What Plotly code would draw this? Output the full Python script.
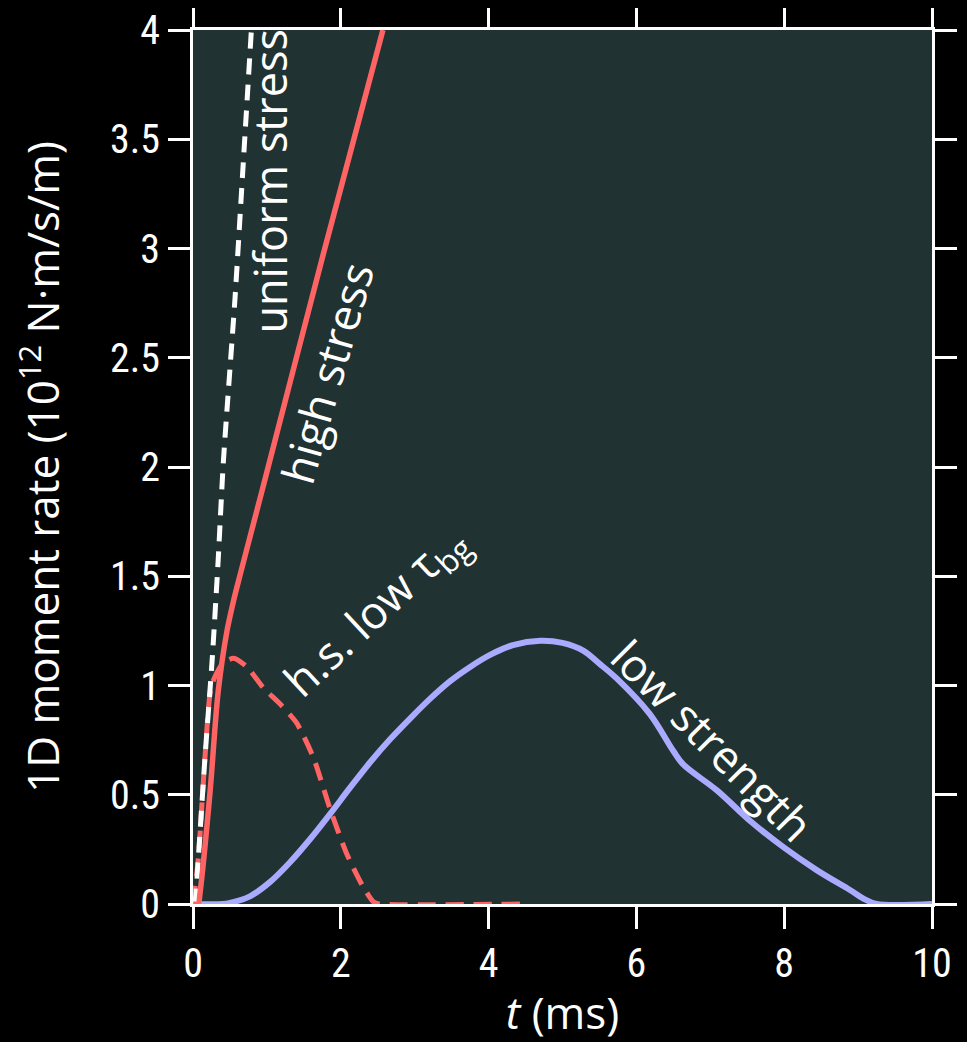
import plotly.graph_objects as go

# ---- data (t in ms, moment rate in 1e12 N·m/s/m) ----
uniform_t = [0, 0.03, 0.07, 0.16, 0.26, 0.34, 0.41, 0.57, 0.68, 0.79]
uniform_m = [0, 0.02, 0.2, 0.66, 1.12, 1.57, 2.02, 2.78, 3.39, 4.0]

high_t = [0, 0.07, 0.095, 0.23, 0.34, 0.46, 0.55, 0.64, 0.91, 1.04, 1.76, 2.57]
high_m = [0, 0, 0.05, 0.51, 0.97, 1.25, 1.39, 1.51, 1.86, 2.03, 2.97, 4.0]

hslow_t = [0, 0.07, 0.16, 0.25, 0.4, 0.55, 0.73, 0.95, 1.18, 1.40, 1.63, 1.85, 2.08, 2.30, 2.44, 2.52, 4.43]
hslow_m = [0, 0.2, 0.66, 1.0, 1.1, 1.125, 1.085, 0.99, 0.915, 0.83, 0.67, 0.44, 0.23, 0.08, 0.01, 0, 0]

low_t = [0, 0.4, 0.5, 0.77, 1.04, 1.31, 1.58, 1.85, 2.12, 2.40, 2.67, 2.94, 3.21, 3.48, 3.75,
         4.02, 4.33, 4.70, 5.0, 5.28, 5.5, 5.74, 6.18, 6.5, 6.63, 7.09, 7.54, 7.99, 8.44,
         8.89, 9.1, 9.25, 10]
low_m = [0, 0, 0.005, 0.035, 0.10, 0.19, 0.295, 0.41, 0.53, 0.65, 0.755, 0.85, 0.94, 1.02, 1.085,
         1.14, 1.185, 1.205, 1.195, 1.16, 1.1, 1.03, 0.87, 0.70, 0.64, 0.52, 0.38, 0.26, 0.155,
         0.064, 0.02, 0, 0]

x_ticks = [0, 2, 4, 6, 8, 10]
y_ticks = [0, 0.5, 1, 1.5, 2, 2.5, 3, 3.5, 4]
y_tick_text = ["0", "0.5", "1", "1.5", "2", "2.5", "3", "3.5", "4"]

RED = "#ff6464"
BLUE = "#aaaaff"
WHITE = "#ffffff"
LABEL_FONT = "Open Sans, Noto Sans, sans-serif"
TICK_FONT = "Liberation Sans Narrow, Roboto Condensed, Liberation Sans, sans-serif"

fig = go.Figure()
fig.add_trace(go.Scatter(x=low_t, y=low_m, mode="lines",
                         line=dict(color=BLUE, width=6, shape="spline", smoothing=1.0)))
fig.add_trace(go.Scatter(x=hslow_t, y=hslow_m, mode="lines",
                         line=dict(color=RED, width=5, dash="18px,10px", shape="spline", smoothing=0.6)))
fig.add_trace(go.Scatter(x=uniform_t, y=uniform_m, mode="lines",
                         line=dict(color=WHITE, width=5, dash="16px,10px", shape="spline", smoothing=0.6)))
fig.add_trace(go.Scatter(x=high_t, y=high_m, mode="lines",
                         line=dict(color=RED, width=5.5, shape="spline", smoothing=0.8)))

ann = [
    dict(text="uniform stress", x=1.04, y=3.31, textangle=-90),
    dict(text="high stress", x=1.8, y=2.43, textangle=-74),
    dict(text="h.s. low τ<sub>bg</sub>", x=2.47, y=1.34, textangle=-43),
    dict(text="low strength", x=7.04, y=0.75, textangle=45),
]
for a in ann:
    fig.add_annotation(xref="x", yref="y", showarrow=False,
                       font=dict(family=LABEL_FONT, size=45, color=WHITE), **a)

axis_common = dict(showline=True, linecolor=WHITE, linewidth=3, mirror="ticks",
                   ticks="outside", ticklen=22, tickwidth=3, tickcolor=WHITE,
                   showgrid=False, zeroline=False, automargin=False,
                   ticklabeloverflow="allow",
                   tickfont=dict(family=TICK_FONT, size=40, color=WHITE))

fig.update_layout(
    width=959, height=1034,
    margin=dict(l=185, r=35, t=22, b=138),
    paper_bgcolor="black", plot_bgcolor="#203232",
    showlegend=False,
    xaxis=dict(range=[0, 10], tickvals=x_ticks, **axis_common,
               title=dict(text="<i>t</i> (ms)", standoff=26,
                          font=dict(family=LABEL_FONT, size=44, color=WHITE))),
    yaxis=dict(range=[0, 4], tickvals=y_ticks, ticktext=y_tick_text, **axis_common,
               title=dict(text="1D moment rate (10<sup>12</sup> N·m/s/m)", standoff=38,
                          font=dict(family=LABEL_FONT, size=44, color=WHITE))),
)

fig.write_html("out.html", post_script="document.body.style.background='black';")
